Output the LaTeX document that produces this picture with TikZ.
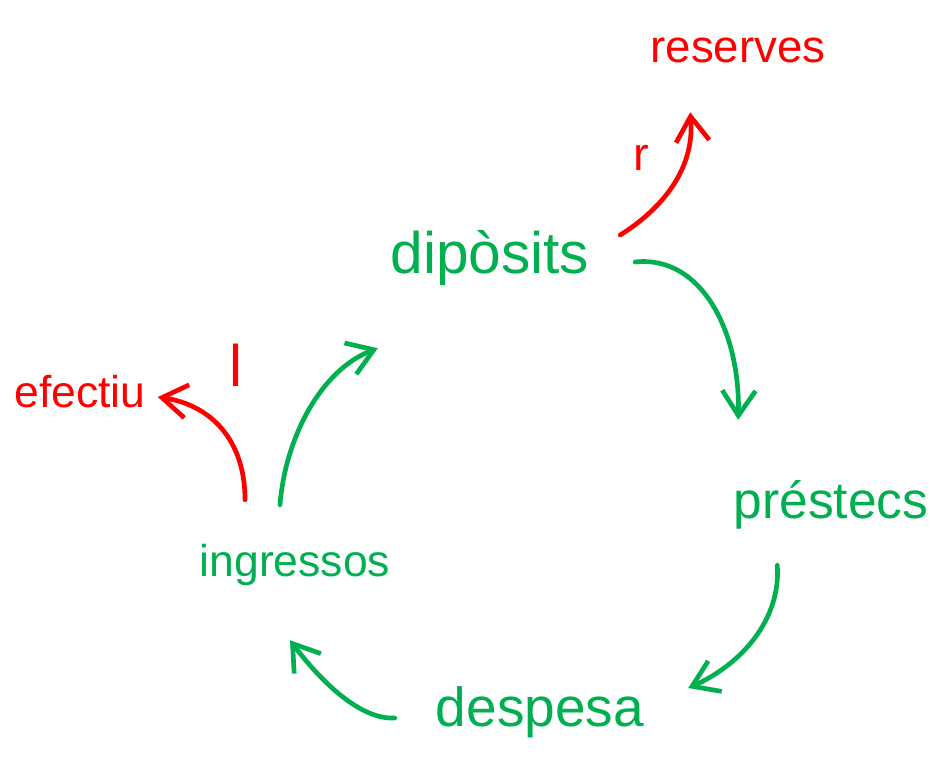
\documentclass[tikz,border=0pt]{standalone}
\usepackage{fontspec}
\setmainfont{Liberation Sans}
\usetikzlibrary{arrows.meta}
\definecolor{hgreen}{RGB}{0,176,80}
\definecolor{hred}{RGB}{255,0,0}
\tikzset{
  lbl/.style={inner sep=0pt, align=center},
  grn/.style={lbl, text=hgreen},
  rd/.style={lbl, text=hred},
  flow/.style={draw=hgreen, line width=4pt, line cap=round, line join=round,
    -{Straight Barb[length=0.75cm,width=1.0cm,line width=4pt]}},
  rflow/.style={flow, draw=hred}
}
\begin{document}
\begin{tikzpicture}[x=0.03cm,y=-0.03cm]
\path[use as bounding box, fill=white] (0,0) rectangle (938,779);
% nodes
\node[grn, minimum width=6.3cm, minimum height=2.7cm, font=\fontsize{50}{56}\selectfont] (dip) at (490,258) {dipòsits};
\node[grn, minimum width=5.85cm, minimum height=3.0cm, font=\fontsize{44}{50}\selectfont] (pre) at (831,505) {préstecs};
\node[grn, minimum width=6.3cm, minimum height=2.7cm, font=\fontsize{47}{53}\selectfont] (desp) at (540,712) {despesa};
\node[grn, minimum width=5.7cm, minimum height=2.4cm, font=\fontsize{38}{44}\selectfont] (ing) at (295,565) {ingressos};
\node[rd, minimum width=3.9cm, minimum height=2.7cm, font=\fontsize{38}{44}\selectfont] (eff) at (80,392) {efectiu};
\node[rd, minimum width=5.25cm, minimum height=1.8cm, font=\fontsize{39}{44}\selectfont] (res) at (738,50) {reserves};
\node[rd, font=\fontsize{40}{44}\selectfont] (r) at (641,158) {r};
\node[rd, font=\fontsize{50}{56}\selectfont] (l) at (236,365) {l};
% green cycle
\draw[flow] ([shift={(40,4)}]dip.east) .. controls +(65,-7) and +(2,-90) .. ([shift={(5,-35)}]pre.north west);
\draw[flow] ([shift={(44,10)}]pre.south west) .. controls +(4,55) and +(52,-23) .. ([shift={(43,-24)}]desp.east);
\draw[flow] ([shift={(-40,6)}]desp.west) .. controls +(-35,2) and +(30,40) .. ([shift={(-5,35)}]ing.south);
\draw[flow] ([shift={(-15,-20)}]ing.north) .. controls +(5,-65) and +(-58,22) .. ([shift={(-7,45)}]dip.south west);
% red
\draw[rflow] ([shift={(25,-23)}]dip.east) .. controls +(40,-25) and +(5,58) .. ([shift={(40,32)}]res.south west);
\draw[rflow] ([shift={(-50,-25)}]ing.north) .. controls +(0,-60) and +(53,8) .. ([shift={(12,5)}]eff.east);
\end{tikzpicture}
\end{document}
